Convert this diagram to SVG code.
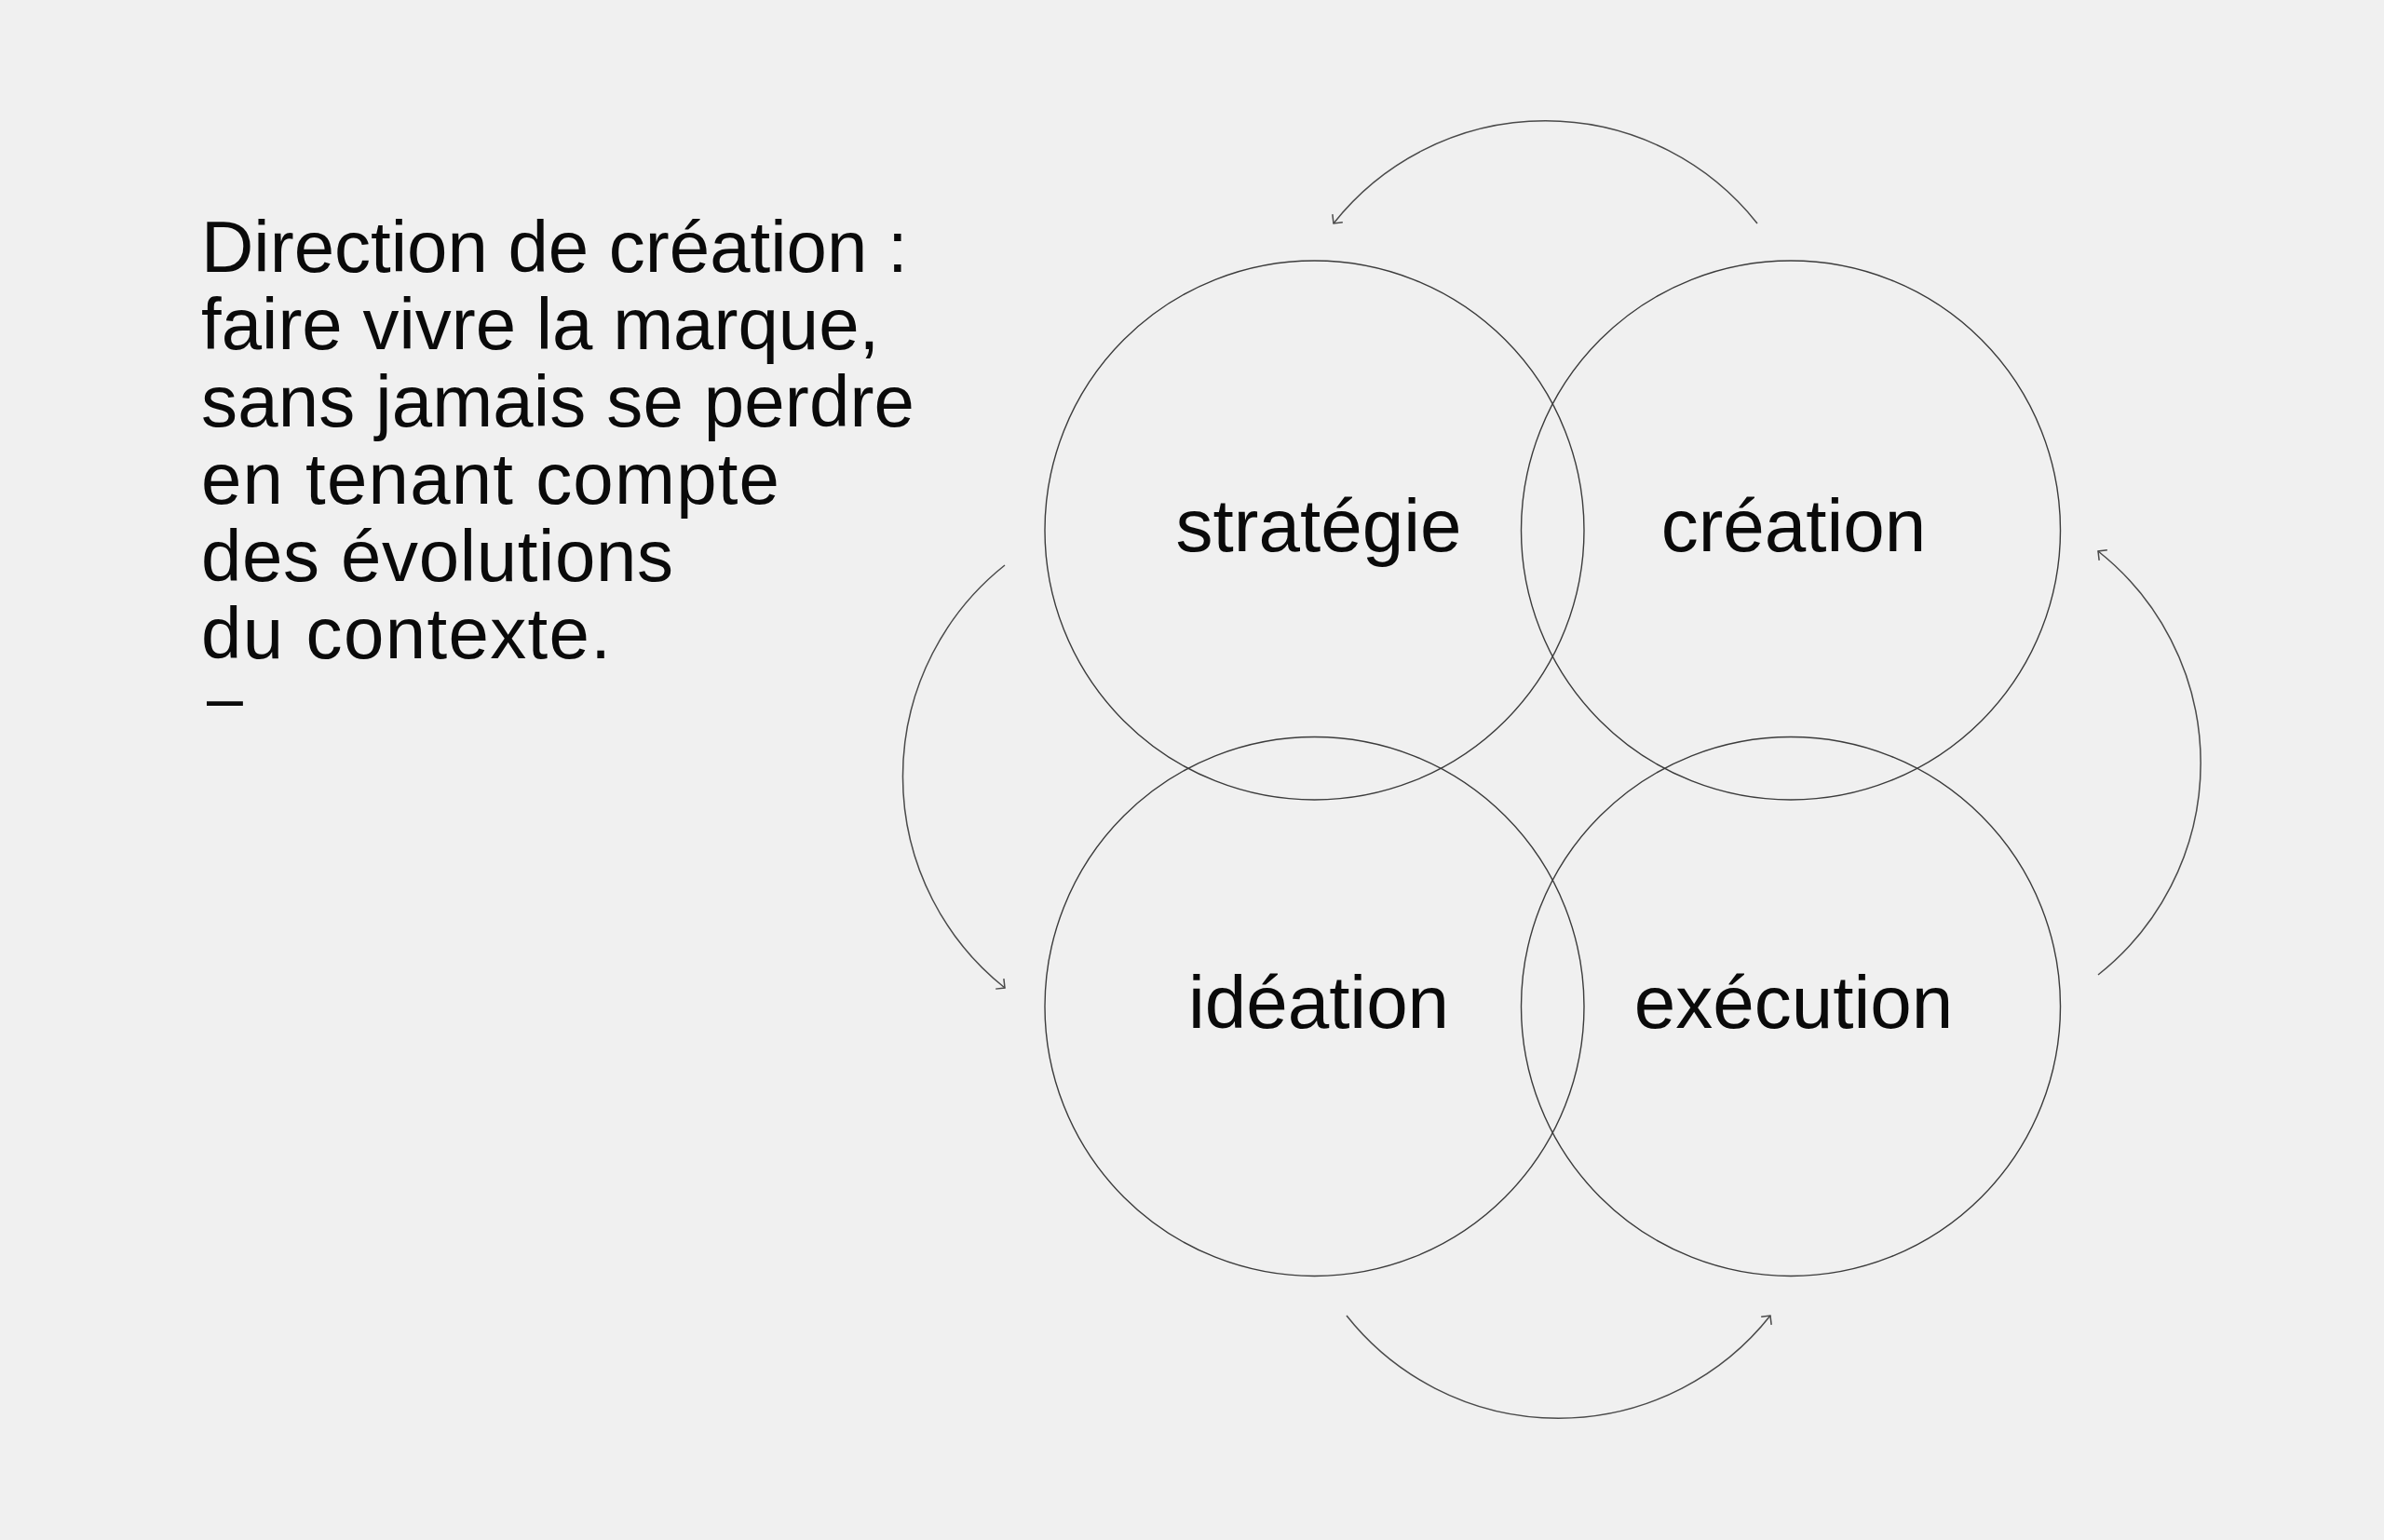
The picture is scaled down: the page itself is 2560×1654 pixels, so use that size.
<svg xmlns="http://www.w3.org/2000/svg" width="2560" height="1654" viewBox="0 0 2560 1654">
<style>
.bg{fill:#f0f0f0}
.intro{font-family:"Liberation Sans",Arial,Helvetica,sans-serif;font-size:78px;fill:#0a0a0a}
.dash{font-family:"Liberation Sans",Arial,Helvetica,sans-serif;font-size:70px;fill:#0a0a0a}
.lbl{font-family:"Liberation Sans",Arial,Helvetica,sans-serif;font-size:80px;fill:#0a0a0a;text-anchor:middle}
.ring{fill:none;stroke:#3c3c3c;stroke-width:1.4}
.arc{fill:none;stroke:#4a4a4a;stroke-width:1.5;marker-end:url(#head)}
</style>
<defs>
<marker id="head" markerUnits="userSpaceOnUse" markerWidth="20" markerHeight="20" viewBox="-10 -10 20 20" refX="0" refY="0" orient="auto">
<path d="M -7 -7 L 0 0 L -7 7" fill="none" stroke="#4a4a4a" stroke-width="1.5"/>
</marker>
</defs>
<rect class="bg" x="0" y="0" width="2560" height="1654"/>
<g id="intro">
<text class="intro" x="216" y="292">Direction de création :</text>
<text class="intro" x="216" y="375">faire vivre la marque,</text>
<text class="intro" x="216" y="458" textLength="766" lengthAdjust="spacing">sans jamais se perdre</text>
<text class="intro" x="216" y="541" textLength="621" lengthAdjust="spacing">en tenant compte</text>
<text class="intro" x="216" y="624" textLength="507" lengthAdjust="spacing">des évolutions</text>
<text class="intro" x="216" y="707" textLength="440" lengthAdjust="spacing">du contexte.</text>
<text class="dash" x="222" y="774">–</text>
</g>
<g id="connectors">
<path class="arc" d="M 1887 240 A 290 290 0 0 0 1432 240"/>
<path class="arc" d="M 1079 607 A 290 290 0 0 0 1079 1061"/>
<path class="arc" d="M 1446 1413 A 290 290 0 0 0 1901 1413"/>
<path class="arc" d="M 2253 1047 A 290 290 0 0 0 2253 592"/>
</g>
<g id="strategie">
<circle class="ring" cx="1411.5" cy="569.5" r="289.5"/>
<text class="lbl" x="1416" y="592">stratégie</text>
</g>
<g id="creation">
<circle class="ring" cx="1923" cy="569.5" r="289.5"/>
<text class="lbl" x="1926" y="592">création</text>
</g>
<g id="ideation">
<circle class="ring" cx="1411.5" cy="1081" r="289.5"/>
<text class="lbl" x="1416" y="1104">idéation</text>
</g>
<g id="execution">
<circle class="ring" cx="1923" cy="1081" r="289.5"/>
<text class="lbl" x="1926" y="1104">exécution</text>
</g>
</svg>
